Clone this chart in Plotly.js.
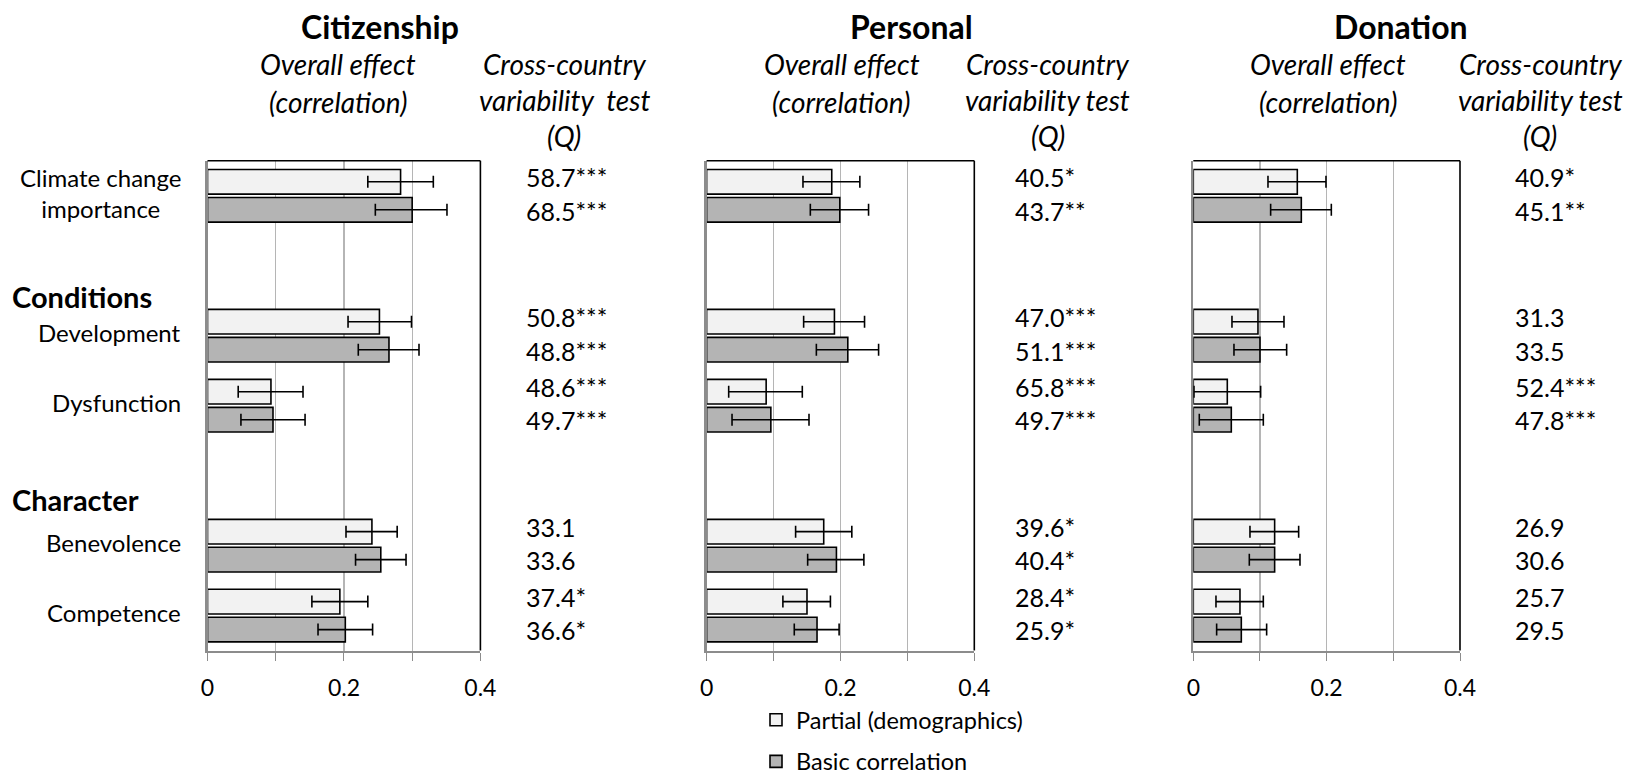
<!DOCTYPE html>
<html>
<head>
<meta charset="utf-8">
<script src="https://cdn.plot.ly/plotly-3.0.1.min.js"></script>
<style>html,body{margin:0;padding:0;background:#fff;}#chart{width:1627px;height:777px;}</style>
</head>
<body>
<div id="chart"></div>
<script>
// ---------- data ----------
const rowLabels = ['Climate change<br>importance', 'Development', 'Dysfunction', 'Benevolence', 'Competence'];
const rowSlots = [0, 2, 3, 5, 6];
const groupHeadings = ['Conditions', 'Character'];
const headingSlots = [1.44, 4.34];

const panelTitles = ['Citizenship', 'Personal', 'Donation'];
const seriesNames = ['Partial (demographics)', 'Basic correlation'];
const tickVals = [0, 0.1, 0.2, 0.3, 0.4];
const tickLabels = ['0', '', '0.2', '', '0.4'];

// Citizenship
const citPartial   = [0.283, 0.252, 0.093, 0.241, 0.194];
const citPartialLo = [0.235, 0.206, 0.045, 0.203, 0.153];
const citPartialHi = [0.331, 0.299, 0.140, 0.278, 0.235];
const citBasic     = [0.300, 0.266, 0.096, 0.254, 0.202];
const citBasicLo   = [0.246, 0.221, 0.049, 0.217, 0.162];
const citBasicHi   = [0.351, 0.310, 0.143, 0.291, 0.242];
const citQPartial  = ['58.7***', '50.8***', '48.6***', '33.1', '37.4*'];
const citQBasic    = ['68.5***', '48.8***', '49.7***', '33.6', '36.6*'];

// Personal
const perPartial   = [0.187, 0.191, 0.089, 0.175, 0.150];
const perPartialLo = [0.144, 0.145, 0.033, 0.133, 0.114];
const perPartialHi = [0.229, 0.236, 0.143, 0.217, 0.185];
const perBasic     = [0.199, 0.211, 0.096, 0.194, 0.165];
const perBasicLo   = [0.155, 0.164, 0.038, 0.151, 0.131];
const perBasicHi   = [0.242, 0.257, 0.153, 0.235, 0.198];
const perQPartial  = ['40.5*', '47.0***', '65.8***', '39.6*', '28.4*'];
const perQBasic    = ['43.7**', '51.1***', '49.7***', '40.4*', '25.9*'];

// Donation
const donPartial   = [0.156, 0.097, 0.051, 0.122, 0.070];
const donPartialLo = [0.112, 0.058, 0.001, 0.085, 0.034];
const donPartialHi = [0.199, 0.136, 0.101, 0.158, 0.105];
const donBasic     = [0.162, 0.100, 0.057, 0.122, 0.072];
const donBasicLo   = [0.116, 0.061, 0.009, 0.084, 0.035];
const donBasicHi   = [0.207, 0.140, 0.105, 0.160, 0.110];
const donQPartial  = ['40.9*', '31.3', '52.4***', '26.9', '25.7'];
const donQBasic    = ['45.1**', '33.5', '47.8***', '30.6', '29.5'];

// ---------- layout geometry (pixels) ----------
const W = 1627, H = 777;
const px = v => v / W;
const py = v => 1 - v / H;
const panelX = [[207.5, 480.4], [706.6, 974.3], [1193.3, 1460.0]];
const plotTop = 160.8, plotBottom = 650.6;
const titleX = [380, 911.5, 1400.8];
const effectX = [338, 841.5, 1328];
const crossX = [564, 1047.5, 1540];
const qX = [524, 1012.7, 1512.7];

const FONT = 'Lato, "Open Sans", sans-serif';
const FS = 24;

const panels = [
  {p: citPartial, pl: citPartialLo, ph: citPartialHi, b: citBasic, bl: citBasicLo, bh: citBasicHi, qp: citQPartial, qb: citQBasic},
  {p: perPartial, pl: perPartialLo, ph: perPartialHi, b: perBasic, bl: perBasicLo, bh: perBasicHi, qp: perQPartial, qb: perQBasic},
  {p: donPartial, pl: donPartialLo, ph: donPartialHi, b: donBasic, bl: donBasicLo, bh: donBasicHi, qp: donQPartial, qb: donQBasic}
];

const fills = ['#f2f2f2', '#b4b4b4'];
const traces = [];
const annotations = [];
const shapes = [];
const layout = {
  width: W, height: H,
  margin: {l: 0, r: 0, t: 0, b: 0, autoexpand: false},
  paper_bgcolor: '#fff', plot_bgcolor: '#fff',
  font: {family: FONT, size: FS, color: '#000'},
  barmode: 'group', bargap: 0.2, bargroupgap: 0.12,
  showlegend: true,
  legend: {
    x: px(756), y: py(698), xanchor: 'left', yanchor: 'top',
    orientation: 'v', traceorder: 'grouped', tracegroupgap: 8,
    font: {family: FONT, size: 23.5, color: '#000'}, bgcolor: 'rgba(0,0,0,0)'
  },
  annotations: annotations,
  shapes: shapes
};

const diff = (a, b) => a.map((v, i) => v - b[i]);

panels.forEach((pd, k) => {
  const xa = k === 0 ? 'x' : 'x' + (k + 1);
  const ya = k === 0 ? 'y' : 'y' + (k + 1);
  const xKey = k === 0 ? 'xaxis' : 'xaxis' + (k + 1);
  const yKey = k === 0 ? 'yaxis' : 'yaxis' + (k + 1);
  const series = [[pd.p, pd.pl, pd.ph], [pd.b, pd.bl, pd.bh]];
  series.forEach((s, j) => {
    traces.push({
      type: 'bar', orientation: 'h',
      x: s[0], y: rowSlots,
      xaxis: xa, yaxis: ya,
      name: seriesNames[j], legendgroup: 'g' + j, showlegend: k === 0,
      marker: {color: fills[j], line: {color: '#000', width: 1.6}},
      error_x: {type: 'data', symmetric: false, array: diff(s[2], s[0]), arrayminus: diff(s[0], s[1]),
                color: '#000', thickness: 1.6, width: 6},
      hoverinfo: 'x+name'
    });
  });
  layout[xKey] = {
    domain: [px(panelX[k][0]), px(panelX[k][1])],
    anchor: ya, range: [0, 0.4],
    tickmode: 'array', tickvals: tickVals, ticktext: tickLabels,
    ticks: 'outside', ticklen: 8, tickwidth: 1, tickcolor: '#8c8c8c',
    ticklabelstandoff: 7,
    showline: true, linecolor: '#8c8c8c', linewidth: 2.5,
    showgrid: true, gridcolor: '#b5b5b5', gridwidth: 1.2,
    zeroline: false, fixedrange: true,
    tickfont: {family: FONT, size: 23, color: '#000'}
  };
  layout[yKey] = {
    domain: [py(plotBottom), py(plotTop)],
    anchor: xa, range: [6.5, -0.5],
    showticklabels: false, ticks: '', showgrid: false, zeroline: false,
    showline: true, linecolor: '#8c8c8c', linewidth: 2.5, fixedrange: true
  };
  // top and right borders
  shapes.push({type: 'line', xref: xa + ' domain', yref: ya + ' domain', x0: 0, x1: 1, y0: 1, y1: 1, line: {color: '#000', width: 1.6}});
  shapes.push({type: 'line', xref: xa + ' domain', yref: ya + ' domain', x0: 1, x1: 1, y0: 0, y1: 1, line: {color: '#000', width: 1.6}});

  // headers
  annotations.push({xref: 'paper', yref: 'paper', x: px(titleX[k]), y: py(26), xanchor: 'center', yanchor: 'middle',
    text: '<b>' + panelTitles[k] + '</b>', showarrow: false, font: {family: FONT, size: 32, color: '#000'}});
  ['Overall effect', '(correlation)'].forEach((t, i) => {
    annotations.push({xref: 'paper', yref: 'paper', x: px(effectX[k]), y: py(64.3 + 37.4 * i), xanchor: 'center', yanchor: 'middle',
      text: '<i>' + t + '</i>', showarrow: false, font: {family: FONT, size: 28, color: '#000'}});
  });
  ['Cross-country', k === 0 ? 'variability&nbsp; test' : 'variability test', '(Q)'].forEach((t, i) => {
    annotations.push({xref: 'paper', yref: 'paper', x: px(crossX[k]), y: py(64.3 + 36 * i), xanchor: 'center', yanchor: 'middle',
      text: '<i>' + t + '</i>', showarrow: false, font: {family: FONT, size: 28, color: '#000'}});
  });
  // Q values
  rowSlots.forEach((slot, i) => {
    annotations.push({xref: 'paper', yref: ya, x: px(qX[k]), y: slot - 0.24, yshift: 2, xanchor: 'left', yanchor: 'middle',
      text: pd.qp[i], showarrow: false, font: {family: FONT, size: 25, color: '#000'}});
    annotations.push({xref: 'paper', yref: ya, x: px(qX[k]), y: slot + 0.24, yshift: 2, xanchor: 'left', yanchor: 'middle',
      text: pd.qb[i], showarrow: false, font: {family: FONT, size: 25, color: '#000'}});
  });
});

// row labels
rowLabels.forEach((lab, i) => {
  annotations.push({xref: 'paper', yref: 'y', x: px(183), y: rowSlots[i], yshift: 3, xanchor: 'right', yanchor: 'middle',
    text: lab, align: 'center', showarrow: false, font: {family: FONT, size: FS, color: '#000'}});
});
groupHeadings.forEach((h, i) => {
  annotations.push({xref: 'paper', yref: 'y', x: px(10), y: headingSlots[i], xanchor: 'left', yanchor: 'middle',
    text: '<b>' + h + '</b>', showarrow: false, font: {family: FONT, size: 29, color: '#000'}});
});

Plotly.newPlot('chart', traces, layout, {displayModeBar: false, staticPlot: true});
</script>
</body>
</html>
